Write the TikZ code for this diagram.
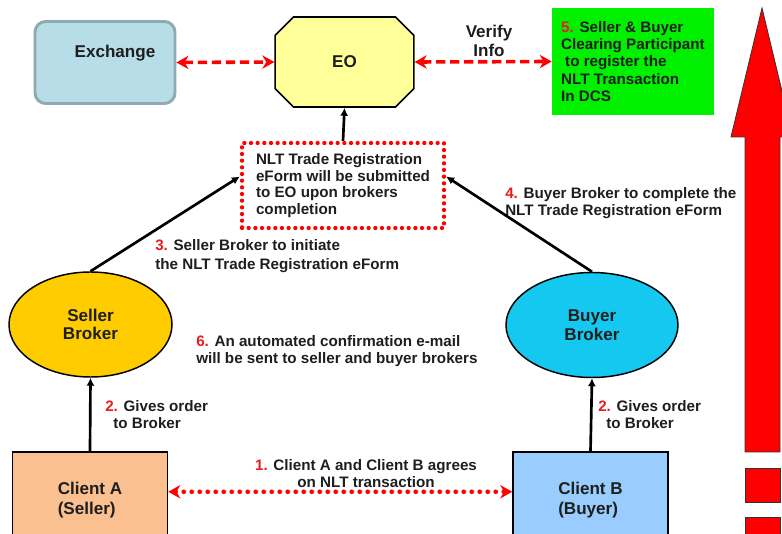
\documentclass[tikz,border=0pt]{standalone}
\usepackage{fontspec}
\setmainfont{Liberation Sans}
\usetikzlibrary{arrows.meta,shapes.geometric,shapes.misc}
\definecolor{exfill}{RGB}{183,222,232}
\definecolor{exline}{RGB}{143,170,176}
\definecolor{eofill}{RGB}{255,255,153}
\definecolor{dcsgreen}{RGB}{0,240,0}
\definecolor{sellerfill}{RGB}{255,204,0}
\definecolor{buyerfill}{RGB}{20,200,240}
\definecolor{clientafill}{RGB}{250,192,144}
\definecolor{clientbfill}{RGB}{153,204,255}
\definecolor{steptxt}{RGB}{232,28,36}
\definecolor{inktxt}{RGB}{30,30,30}
\newcommand{\stepno}[1]{\textcolor{steptxt}{#1}}
\begin{document}
\begin{tikzpicture}[
x=0.75pt, y=-0.75pt,
every node/.style={font=\bfseries\fontsize{11.4}{13}\selectfont, text=inktxt},
bigtxt/.style={font=\bfseries\fontsize{12.8}{14}\selectfont},
lbl/.style={align=left, inner sep=0pt},
exbox/.style={draw=exline, fill=exfill, line width=2.2pt, rounded corners=8pt,
  minimum width=105pt, minimum height=61.5pt},
eobox/.style={chamfered rectangle, chamfered rectangle xsep=21pt,
  chamfered rectangle ysep=19.5pt, draw, line width=1.2pt, fill=eofill,
  minimum width=104pt, minimum height=67.5pt, inner sep=0pt, bigtxt},
dcsbox/.style={fill=dcsgreen, minimum width=121.5pt, minimum height=80pt,
  align=left, font=\bfseries\fontsize{11.4}{13}\selectfont},
formbox/.style={draw=red, line width=3.2pt, dash pattern=on 0pt off 5pt,
  line cap=round, minimum width=151.5pt, minimum height=63.75pt, align=left,
  font=\bfseries\fontsize{11.4}{12.5}\selectfont},
broker/.style={ellipse, draw, line width=1.1pt, inner sep=0pt,
  minimum height=78.75pt, align=center, bigtxt},
client/.style={draw, line width=1.2pt, minimum width=116.25pt,
  minimum height=72pt, align=left, font=\bfseries\fontsize{12.8}{15}\selectfont},
flow/.style={-{Latex[length=6pt,width=6pt]}, line width=2pt, black},
dasharrow/.style={{Stealth[length=9pt,width=10pt]}-{Stealth[length=9pt,width=10pt]},
  red, line width=2.7pt, dash pattern=on 7pt off 3.5pt},
dotarrow/.style={{Stealth[length=9pt,width=10pt]}-{Stealth[length=9pt,width=10pt]},
  red, line width=3.5pt, dash pattern=on 0pt off 6pt, line cap=round}
]
\useasboundingbox (0,0) rectangle (782,534);
\clip (0,0) rectangle (782,534);

\node[exbox, label={[bigtxt, xshift=7.5pt, yshift=7pt]center:Exchange}] (exch) at (105,62.5) {};
\node[eobox] (eo) at (344.5,62) {EO};
\node[bigtxt, align=center] (verify) at (489,41) {Verify\\Info};
\node[dcsbox] (dcs) at (633,61.5)
{\stepno{5.} Seller \& Buyer\\
Clearing Participant\\
\hspace*{3pt}to register the\\
NLT Transaction\\
In DCS};
\node[formbox] (form) at (343,185.5)
{NLT Trade Registration\\
eForm will be submitted\\
to EO upon brokers\\
completion};
\node[broker, fill=sellerfill, minimum width=122.25pt] (seller) at (90.5,324.5) {Seller\\Broker};
\node[broker, fill=buyerfill, minimum width=129pt] (buyer) at (592,325) {Buyer\\Broker};
\node[client, fill=clientafill] (clientA) at (90,500) {Client A\\(Seller)};
\node[client, fill=clientbfill] (clientB) at (590.5,500) {Client B\\(Buyer)};

\node[lbl, anchor=west, font=\bfseries\fontsize{11.4}{14}\selectfont] (note3) at (155,256)
{\stepno{3.} Seller Broker to initiate\\the NLT Trade Registration eForm};
\node[lbl, anchor=west] (note4) at (505,203)
{\stepno{4.} Buyer Broker to complete the\\NLT Trade Registration eForm};
\node[lbl, anchor=west] (note6) at (196,351)
{\stepno{6.} An automated confirmation e-mail\\will be sent to seller and buyer brokers};
\node[lbl, anchor=west] (note2a) at (105,414.5)
{\stepno{2.} Gives order\\\hspace*{6pt}to Broker};
\node[lbl, anchor=west] (note2b) at (598,414.5)
{\stepno{2.} Gives order\\\hspace*{6pt}to Broker};
\node[lbl, align=center] (note1) at (366,473.5)
{\stepno{1.} Client A and Client B agrees\\on NLT transaction};

\filldraw[fill=red, draw=black!80, line width=0.6pt]
(762,8) -- (793,137) -- (780,137) -- (780,452) -- (745,452) -- (745,137) -- (731,137) -- cycle;
\filldraw[fill=red, draw=black!80, line width=0.6pt] (745,468) rectangle (780,502);
\filldraw[fill=red, draw=black!80, line width=0.6pt] (745,517) rectangle (780,545);

\draw[dasharrow] (exch.east) -- (eo.west);
\draw[dasharrow] (eo.east) -- (dcs.west);
\draw[flow] (form.north) -- (eo.south);
\draw[flow] (seller.north) -- (form.175);
\draw[flow] (buyer.north) -- (form.5);
\draw[flow] (clientA.north) -- (seller.south);
\draw[flow] (clientB.north) -- (buyer.south);
\draw[dotarrow] (clientA.6) -- (clientB.174);
\end{tikzpicture}
\end{document}
